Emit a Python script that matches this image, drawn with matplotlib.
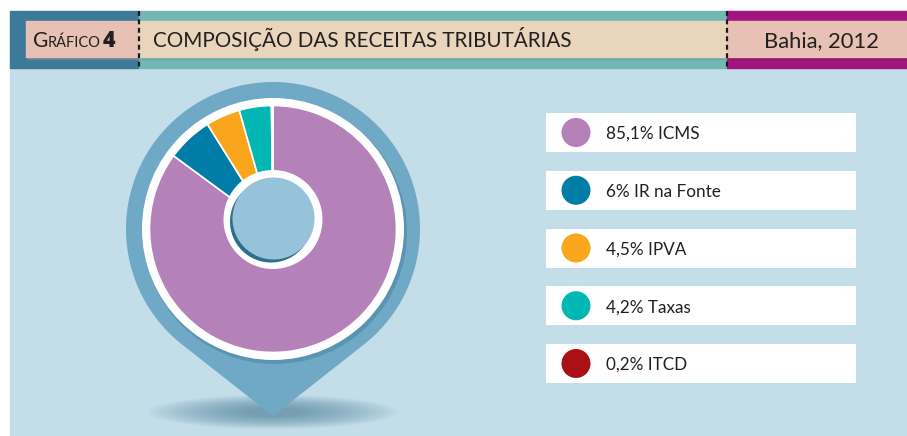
import matplotlib.pyplot as plt
import numpy as np
from matplotlib.patches import Rectangle, Circle, Ellipse, Polygon

# data
labels = ["ICMS", "IR na Fonte", "IPVA", "Taxas", "ITCD"]
values = [85.1, 6, 4.5, 4.2, 0.2]
colors = ["#B481B8", "#007DA7", "#F9A61C", "#00B7B4", "#AA1117"]

title = "COMPOSIÇÃO DAS RECEITAS TRIBUTÁRIAS"
place = "Bahia, 2012"

plt.rcParams['font.family'] = ['Lato', 'DejaVu Sans']
txt = "#231F20"

fig = plt.figure(figsize=(9.07, 4.36), dpi=100)
ax = fig.add_axes([0, 0, 1, 1])

# pie first (pixel coordinates, y pointing down)
cx, cy = 273, 229
ax.pie(values, colors=colors, startangle=-90, counterclock=True,
       center=(cx, cy), radius=123.5, frame=True,
       wedgeprops=dict(edgecolor="white", linewidth=1.2, zorder=6))
ax.set_xlim(0, 907)
ax.set_ylim(436, 0)
ax.set_aspect('auto')
ax.axis('off')

# background panel
ax.add_patch(Rectangle((10, 68), 897, 368, color="#C3DDE9", zorder=0))

# header
ax.add_patch(Rectangle((10, 11), 129, 57, color="#3D7A99", zorder=1))
ax.add_patch(Rectangle((139, 11), 588, 57, color="#72B7B4", zorder=1))
ax.add_patch(Rectangle((727, 11), 180, 57, color="#A0167C", zorder=1))
ax.add_patch(Rectangle((28, 23), 111, 36, color="#9A8F8A", alpha=0.35, zorder=1))
ax.add_patch(Rectangle((26, 21), 113, 36, color="#E6C1B4", zorder=2))
ax.add_patch(Rectangle((139, 23), 588, 36, color="#5E9A98", alpha=0.35, zorder=1))
ax.add_patch(Rectangle((139, 21), 588, 36, color="#E8D5BC", zorder=2))
ax.add_patch(Rectangle((727, 23), 180, 36, color="#7E1060", alpha=0.35, zorder=1))
ax.add_patch(Rectangle((727, 21), 180, 36, color="#E7C1B3", zorder=2))
for xd in [139, 727]:
    ax.plot([xd, xd], [11, 68], color="#1A1A1A", lw=1.6, ls=(0, (2.2, 1.6)), zorder=3)

ax.text(33, 47, "G", fontsize=15, color=txt, va='baseline', zorder=4)
ax.text(47.5, 47, "RÁFICO", fontsize=10.5, color=txt, va='baseline', zorder=4)
ax.text(103, 47, "4", fontsize=15.5, fontweight='heavy', color=txt, va='baseline', zorder=4,
        family=['Open Sans', 'DejaVu Sans'])
ax.text(153, 47, title, fontsize=14.9, color=txt, va='baseline', zorder=4)
ax.text(821, 47, place, fontsize=15.8, color=txt, va='baseline', ha='center', zorder=4)

# pin shadow
for k in range(24):
    ax.add_patch(Ellipse((273, 412), 250 - k * 8.5, 34 - k * 1.1,
                         color="#4A7F99", alpha=0.035, lw=0, zorder=1))

# pin shape
R, tip = 147, 416
d = tip - cy
a = np.degrees(np.arccos(R / d))
th = np.radians(np.linspace(90 + a, 450 - a, 200))
pts = np.column_stack([cx + R * np.cos(th), cy + R * np.sin(th)])
pts = np.vstack([pts, [cx, tip]])
ax.add_patch(Polygon(pts, closed=True, color="#6FA9C5", lw=0, zorder=2))

# white ring with soft shadow
ax.add_patch(Circle((cx + 2, cy + 3), 132, color="#3F7E9C", alpha=0.45, lw=0, zorder=3))
ax.add_patch(Circle((cx, cy), 131, color="white", lw=0, zorder=4))

# hole
hx, hy = 273, 219.5
ax.add_patch(Circle((hx, hy), 49.5, color="white", lw=0, zorder=8))
ax.add_patch(Circle((hx - 2, hy + 2), 41, color="#2C6E8B", lw=0, zorder=9))
ax.add_patch(Circle((hx + 0.5, hy - 1), 41, color="#96C3D9", lw=0, zorder=10))

# legend
for i, (lab, v, c) in enumerate(zip(labels, values, colors)):
    y0 = 113 + i * 57.75
    ax.add_patch(Rectangle((546, y0), 310, 39, color="white", lw=0, zorder=2))
    ax.add_patch(Circle((576, y0 + 19.5), 14.5, color=c, lw=0, zorder=3))
    s = f"{v:g}".replace(".", ",") + "% " + lab
    ax.text(606, y0 + 26, s, fontsize=12.3, color=txt, va='baseline', zorder=4)

fig.savefig("out.png", dpi=100)
